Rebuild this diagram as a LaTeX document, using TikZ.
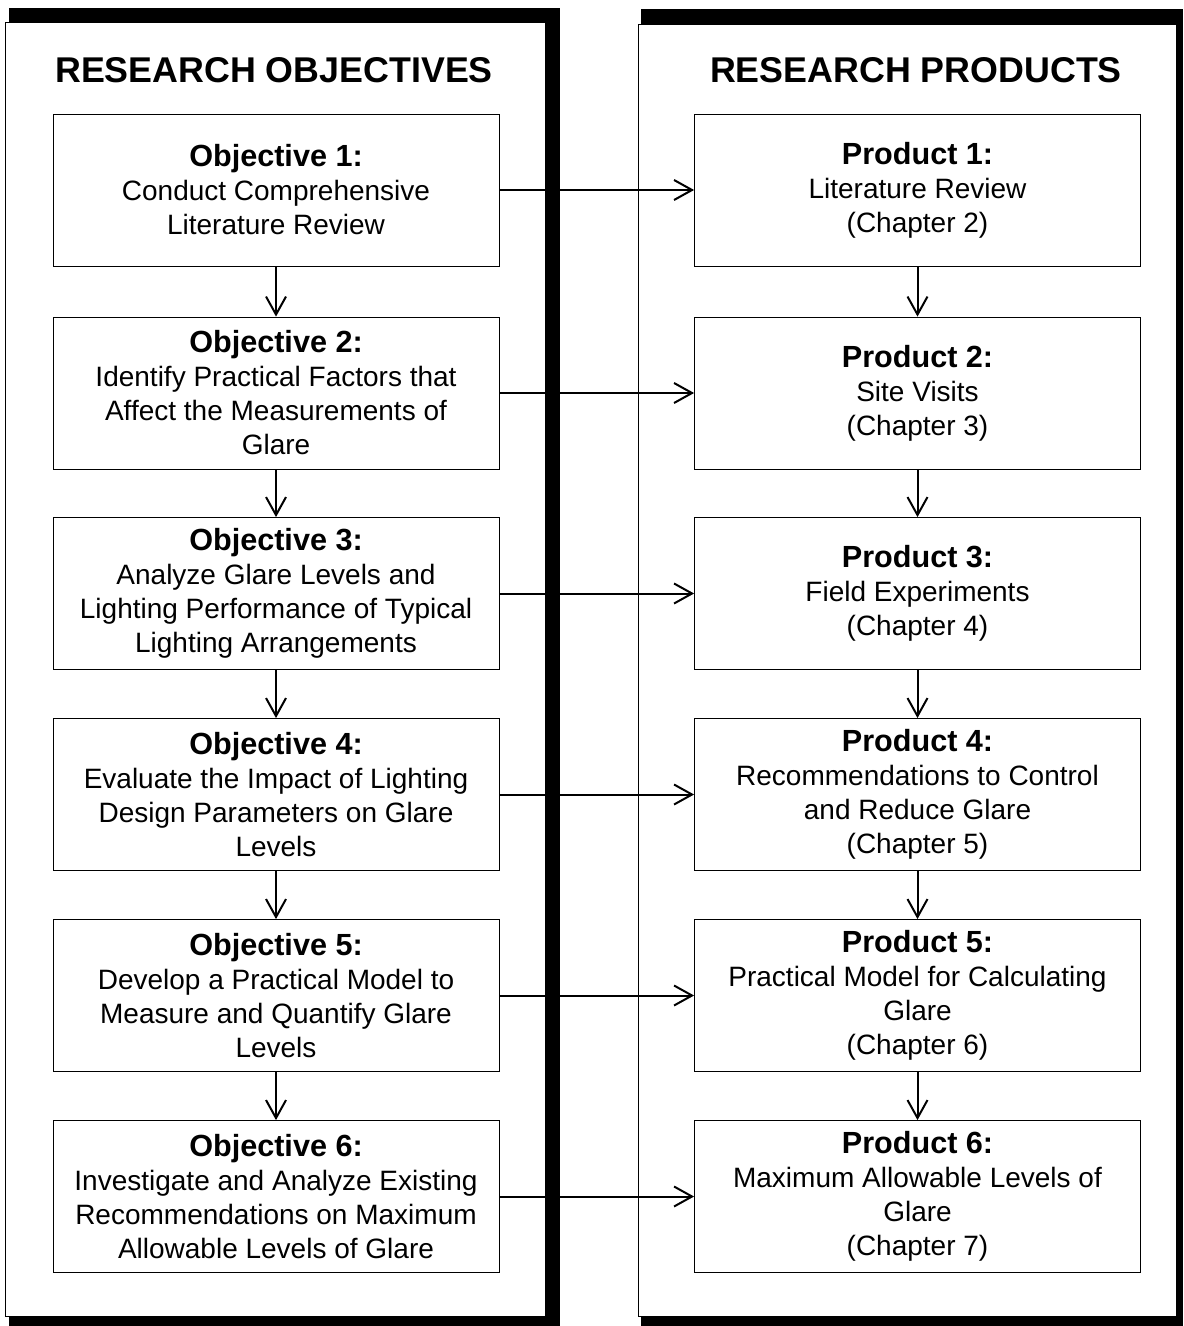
\documentclass[tikz,border=0pt]{standalone}
\usepackage{fontspec}
\setmainfont{Liberation Sans}
\usetikzlibrary{arrows.meta}

\newcommand{\boxw}{223pt}
\newcommand{\boxh}{76pt}
\newcommand{\hd}[1]{{\fontsize{15.3}{17}\selectfont\bfseries #1}}
\newcommand{\bx}{\node[draw, thin, minimum width=\boxw, minimum height=\boxh, align=center, font=\fontsize{14}{17}\selectfont]}
\newcommand{\ttl}{\node[font=\fontsize{17.9}{20}\selectfont\bfseries]}
\tikzset{flow/.style={line width=1pt, -{Straight Barb[length=9pt, width=10pt, line width=1pt]}}}

\begin{document}
\begin{tikzpicture}[x=0.5pt, y=-0.5pt]
            \useasboundingbox (0,0) rectangle (1183,1326);

            % frames
            \fill (9,8) rectangle (560,1326);
            \draw[thin, fill=white] (5,22) rectangle (545,1316);
            \fill (641,9) rectangle (1183,1326);
            \draw[thin, fill=white] (638,24) rectangle (1176,1316);

            \ttl (tobj) at (274,70) {RESEARCH OBJECTIVES};
            \ttl (tprod) at (916,70) {RESEARCH PRODUCTS};

            \bx (o1) at (276,190) {\hd{Objective 1:}\\Conduct Comprehensive\\Literature Review};
            \bx (o2) at (276,393) {\hd{Objective 2:}\\Identify Practical Factors that\\Affect the Measurements of\\Glare};
            \bx (o3) at (276,593.5) {\hd{Objective 3:}\\Analyze Glare Levels and\\Lighting Performance of Typical\\Lighting Arrangements};
            \bx (o4) at (276,794.5) {\hd{Objective 4:}\\Evaluate the Impact of Lighting\\Design Parameters on Glare\\Levels};
            \bx (o5) at (276,995.5) {\hd{Objective 5:}\\Develop a Practical Model to\\Measure and Quantify Glare\\Levels};
            \bx (o6) at (276,1196.5) {\hd{Objective 6:}\\Investigate and Analyze Existing\\Recommendations on Maximum\\Allowable Levels of Glare};

            \bx (p1) at (917.5,190) {\hd{Product 1:}\\Literature Review\\(Chapter 2)};
            \bx (p2) at (917.5,393) {\hd{Product 2:}\\Site Visits\\(Chapter 3)};
            \bx (p3) at (917.5,593.5) {\hd{Product 3:}\\Field Experiments\\(Chapter 4)};
            \bx (p4) at (917.5,794.5) {\hd{Product 4:}\\Recommendations to Control\\and Reduce Glare\\(Chapter 5)};
            \bx (p5) at (917.5,995.5) {\hd{Product 5:}\\Practical Model for Calculating\\Glare\\(Chapter 6)};
            \bx (p6) at (917.5,1196.5) {\hd{Product 6:}\\Maximum Allowable Levels of\\Glare\\(Chapter 7)};

            \draw[flow] (o1) -- (o2);
            \draw[flow] (o2) -- (o3);
            \draw[flow] (o3) -- (o4);
            \draw[flow] (o4) -- (o5);
            \draw[flow] (o5) -- (o6);

            \draw[flow] (p1) -- (p2);
            \draw[flow] (p2) -- (p3);
            \draw[flow] (p3) -- (p4);
            \draw[flow] (p4) -- (p5);
            \draw[flow] (p5) -- (p6);

            \draw[flow] (o1) -- (p1);
            \draw[flow] (o2) -- (p2);
            \draw[flow] (o3) -- (p3);
            \draw[flow] (o4) -- (p4);
            \draw[flow] (o5) -- (p5);
            \draw[flow] (o6) -- (p6);
        \end{tikzpicture}
\end{document}
